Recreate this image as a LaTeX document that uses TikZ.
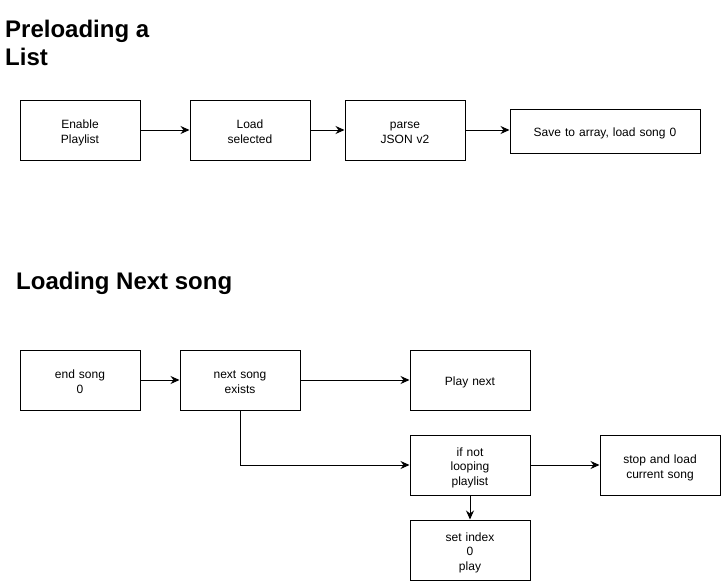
\documentclass[tikz,border=0pt]{standalone}
\usepackage{fontspec}
\setmainfont{Liberation Sans}
\usetikzlibrary{arrows.meta}
\begin{document}
\begin{tikzpicture}[x=1pt,y=-1pt,
  box/.style={draw=black,line width=1pt,fill=white,align=center,
    text width=116pt,
    minimum width=120pt,minimum height=60pt,inner sep=0pt,
    font=\fontsize{12}{14.5}\selectfont,
    execute at begin node={\rule{0pt}{16.15pt}},
    execute at end node=\strut},
  title/.style={align=left,inner sep=0pt,font=\fontsize{24}{28}\selectfont\bfseries},
  arr/.style={draw=black,line width=1pt,-{Stealth[length=9pt,width=8pt,inset=3pt]}}]
\useasboundingbox (0,0) rectangle (721,581);
\node[title,anchor=base west] (t1) at (5,65) {Preloading a\\List};
\node[title,anchor=base west] (t2) at (16,289) {Loading Next song};

\node[box] (enable) at (80,130) {Enable\\Playlist};
\node[box] (loadsel) at (250,130) {Load\\selected};
\node[box] (parse) at (405,130) {parse\\JSON v2};
\node[box,text width=186pt,minimum width=190pt,minimum height=44pt] (save) at (605,131) {Save to array, load song 0};

\draw[arr] (enable) -- (loadsel);
\draw[arr] (loadsel) -- (parse);
\draw[arr] (parse.east) -- (parse.east -| save.west);

\node[box] (endsong) at (80,380) {end song\\0};
\node[box] (nextsong) at (240,380) {next song\\exists};
\node[box] (playnext) at (470,380) {Play next};
\node[box] (ifnot) at (470,465) {if not\\looping\\playlist};
\node[box] (stop) at (660,465) {stop and load\\current song};
\node[box] (setidx) at (470,550) {set index\\0\\play};

\draw[arr] (endsong) -- (nextsong);
\draw[arr] (nextsong) -- (playnext);
\draw[arr] (nextsong.south) |- (ifnot.west);
\draw[arr] (ifnot) -- (stop);
\draw[arr] (ifnot) -- (setidx);
\end{tikzpicture}
\end{document}
